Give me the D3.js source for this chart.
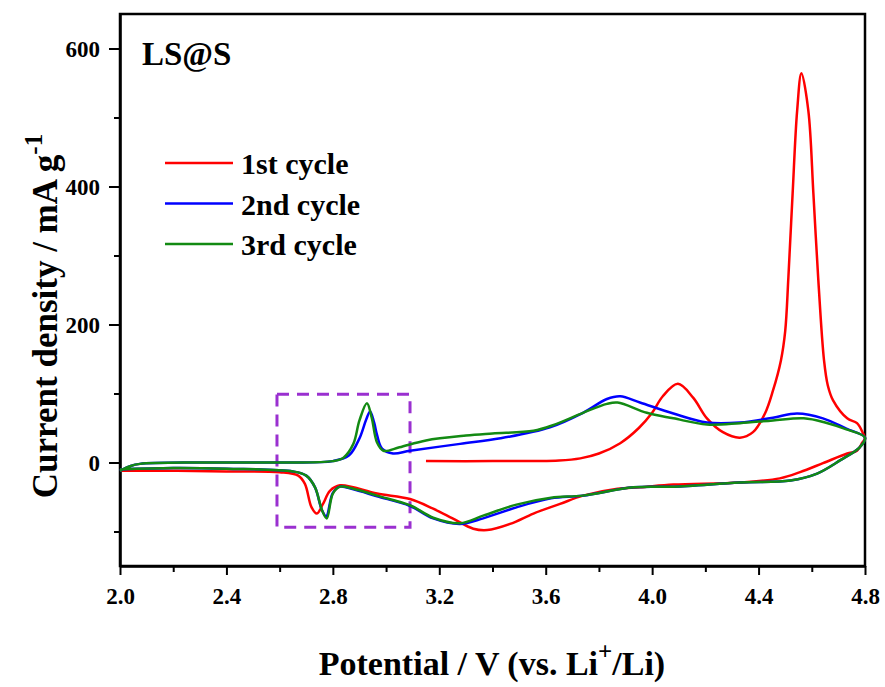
<!DOCTYPE html>
<html>
<head>
<meta charset="utf-8">
<script src="https://cdn.jsdelivr.net/npm/d3@7"></script>
<style>
  body { margin: 0; background: #fff; }
  svg text { font-family: "Liberation Serif", "Times New Roman", serif; font-weight: bold; }
</style>
</head>
<body>
<svg width="885" height="687"></svg>
<script>
// [potential V, current mA/g]
var cycle1 = [
  [3.15, 2], [3.40, 2], [3.65, 3], [3.73, 6], [3.80, 13], [3.88, 28], [3.95, 50], [4.0, 72],
  [4.04, 96], [4.097, 114], [4.154, 94], [4.206, 64], [4.266, 44], [4.33, 36], [4.379, 44],
  [4.424, 71], [4.454, 104], [4.484, 148], [4.50, 190], [4.512, 268], [4.528, 390], [4.545, 510],
  [4.561, 564], [4.587, 510], [4.606, 390], [4.624, 268], [4.646, 148], [4.66, 112], [4.68, 90],
  [4.733, 64], [4.77, 57], [4.793, 42], [4.80, 35],
  [4.79, 29], [4.77, 17], [4.733, 13], [4.642, -1], [4.556, -14], [4.48, -23], [4.33, -29],
  [4.08, -32], [3.954, -36], [3.87, -38], [3.74, -48], [3.654, -60], [3.554, -74], [3.466, -89],
  [3.38, -98], [3.328, -96], [3.25, -81], [3.177, -67], [3.09, -53], [2.966, -45], [2.827, -33],
  [2.789, -41], [2.763, -60], [2.74, -74], [2.72, -65], [2.695, -31], [2.67, -19], [2.60, -14],
  [2.40, -13], [2.20, -12], [2.0, -12]
];

var cycle2 = [
  [2.0, -12], [2.04, -5], [2.075, -2], [2.3, 0], [2.6, 0], [2.8, 2], [2.86, 10], [2.90, 35],
  [2.925, 62], [2.94, 74], [2.955, 58], [2.966, 40], [2.985, 20], [3.026, 13], [3.09, 17],
  [3.278, 27], [3.43, 35], [3.616, 51], [3.74, 72], [3.83, 92], [3.88, 96], [3.954, 87],
  [4.08, 71], [4.206, 58], [4.33, 58], [4.454, 65], [4.545, 71], [4.642, 64], [4.73, 49],
  [4.80, 36],
  [4.78, 22], [4.706, 3], [4.62, -16], [4.52, -26], [4.33, -29], [4.08, -35], [3.93, -36],
  [3.74, -48], [3.62, -52], [3.49, -65], [3.365, -81], [3.278, -89], [3.177, -81], [3.09, -63],
  [2.966, -49], [2.877, -39], [2.827, -35], [2.80, -44], [2.775, -78], [2.758, -68], [2.733, -36],
  [2.70, -19], [2.65, -13], [2.40, -9], [2.20, -8], [2.0, -10]
];

var cycle3 = [
  [2.0, -12], [2.04, -5], [2.075, -2], [2.3, 0], [2.6, 0], [2.8, 2], [2.84, 7], [2.877, 27],
  [2.90, 61], [2.928, 86], [2.946, 65], [2.966, 29], [2.99, 17], [3.05, 22], [3.15, 32],
  [3.30, 39], [3.40, 42], [3.554, 46], [3.627, 54], [3.74, 72], [3.83, 85], [3.87, 87],
  [3.98, 72], [4.08, 64], [4.206, 55], [4.33, 57], [4.454, 61], [4.57, 64], [4.65, 58],
  [4.73, 48], [4.80, 36],
  [4.78, 22], [4.706, 3], [4.62, -16], [4.52, -26], [4.33, -29], [4.08, -35], [3.93, -36],
  [3.74, -48], [3.62, -51], [3.49, -61], [3.365, -77], [3.278, -88], [3.177, -80], [3.09, -62],
  [2.966, -48], [2.877, -38], [2.827, -35], [2.80, -45], [2.777, -81], [2.76, -70], [2.733, -36],
  [2.70, -19], [2.65, -13], [2.40, -9], [2.20, -8], [2.0, -10]
];

var seriesNames = ["1st cycle", "2nd cycle", "3rd cycle"];
var seriesColors = ["#ff0000", "#0000ff", "#138a13"];
var xMajor = [2.0, 2.4, 2.8, 3.2, 3.6, 4.0, 4.4, 4.8];
var xMinor = [2.2, 2.6, 3.0, 3.4, 3.8, 4.2, 4.6];
var yMajor = [0, 200, 400, 600];
var yMinor = [-100, 100, 300, 500];
var boxX = [2.59, 3.09];
var boxY = [-94, 99];

var svg = d3.select("svg"),
    margin = {top: 14, right: 20, bottom: 121, left: 120},
    width = +svg.attr("width") - margin.left - margin.right,
    height = +svg.attr("height") - margin.top - margin.bottom;

var xScale = d3.scaleLinear().domain([2.0, 4.8]).range([0, width]);
var yScale = d3.scaleLinear().domain([-150, 650]).range([height, 0]);

var g = svg.append("g")
    .attr("transform", "translate(" + margin.left + "," + margin.top + ")");

// minor ticks first, major on top
g.append("g")
  .attr("transform", "translate(0," + height + ")")
  .call(d3.axisBottom(xScale).tickValues(xMinor).tickSize(6).tickFormat(""))
  .call(function(s) { s.select(".domain").remove(); });
g.append("g")
  .call(d3.axisLeft(yScale).tickValues(yMinor).tickSize(6).tickFormat(""))
  .call(function(s) { s.select(".domain").remove(); });

var gx = g.append("g")
  .attr("transform", "translate(0," + height + ")")
  .call(d3.axisBottom(xScale).tickValues(xMajor).tickSize(9).tickSizeOuter(0).tickFormat(d3.format(".1f")));
gx.selectAll("text").attr("y", 38).attr("dy", 0).style("font-size", "23px");

var gy = g.append("g")
  .call(d3.axisLeft(yScale).tickValues(yMajor).tickSize(11).tickSizeOuter(0));
gy.selectAll("text").attr("x", -20).attr("dy", "0.35em").style("font-size", "23px");

svg.selectAll(".tick line").attr("stroke", "#000").attr("stroke-width", 2);
svg.selectAll(".domain").attr("stroke", "#000").attr("stroke-width", 2.5);
svg.selectAll(".tick text").attr("fill", "#000").style("font-family", "Liberation Serif").style("font-weight", "bold");

// frame
g.append("rect")
  .attr("x", 0).attr("y", 0).attr("width", width).attr("height", height)
  .attr("fill", "none").attr("stroke", "#000").attr("stroke-width", 2.5);

// dashed box
g.append("rect")
  .attr("x", xScale(boxX[0])).attr("y", yScale(boxY[1]))
  .attr("width", xScale(boxX[1]) - xScale(boxX[0]))
  .attr("height", yScale(boxY[0]) - yScale(boxY[1]))
  .attr("fill", "none").attr("stroke", "#9a30d0").attr("stroke-width", 3)
  .attr("stroke-dasharray", "12,8");

var line = d3.line()
  .x(function(d) { return xScale(d[0]); })
  .y(function(d) { return yScale(d[1]); })
  .curve(d3.curveCatmullRom.alpha(0.5));

var allData = [cycle1, cycle2, cycle3];
g.selectAll(".cv")
  .data(allData)
  .enter().append("path")
    .attr("class", "cv")
    .attr("d", line)
    .attr("fill", "none")
    .attr("stroke", function(d, i) { return seriesColors[i]; })
    .attr("stroke-width", 2.5)
    .attr("stroke-linejoin", "round");

// sample label
svg.append("text").attr("x", 142).attr("y", 65).style("font-size", "33px").text("LS@S");

// legend
var legend = svg.selectAll(".leg")
  .data(seriesNames)
  .enter().append("g")
    .attr("class", "leg")
    .attr("transform", function(d, i) { return "translate(165," + (163 + i * 40.5) + ")"; });
legend.append("line")
  .attr("x1", 0).attr("x2", 68).attr("y1", 0).attr("y2", 0)
  .attr("stroke", function(d, i) { return seriesColors[i]; })
  .attr("stroke-width", 2.5);
legend.append("text")
  .attr("x", 76).attr("y", 11)
  .style("font-size", "30px")
  .text(function(d) { return d; });

// axis titles
var xt = svg.append("text")
  .attr("x", 492).attr("y", 675)
  .attr("text-anchor", "middle")
  .style("font-size", "34px");
xt.append("tspan").text("Potential / V (vs. Li");
xt.append("tspan").attr("dy", -15).style("font-size", "25px").text("+");
xt.append("tspan").attr("dy", 15).text("/Li)");

var yt = svg.append("text")
  .attr("transform", "translate(57,316) rotate(-90)")
  .attr("text-anchor", "middle")
  .style("font-size", "35px");
yt.append("tspan").text("Current density / mA g");
yt.append("tspan").attr("dy", -15).style("font-size", "25px").text("-1");
</script>
</body>
</html>
